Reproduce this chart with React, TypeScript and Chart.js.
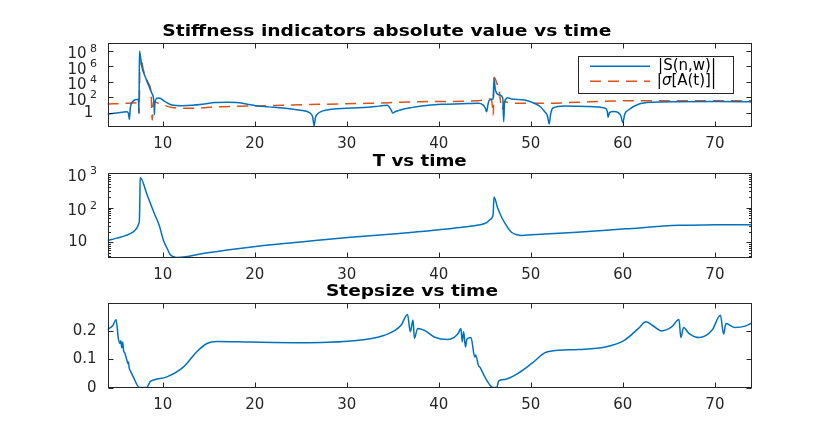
import React, { useEffect, useRef } from "react";
import { Chart, registerables } from "chart.js";

Chart.register(...registerables);

// ---- data ----
const timeTicks = [10, 20, 30, 40, 50, 60, 70];

const stiffTime = [
  4, 5, 5.6, 6.1, 6.28, 6.38, 6.48, 6.8, 7.1, 7.36, 7.42, 7.47, 7.73, 8.09,
  8.45, 8.82, 9.0, 9.06, 9.1, 9.15, 9.36, 9.6, 10.27, 11.0, 12.1, 13.2, 14.3,
  15.7, 17.0, 18.3, 19.2, 20.1, 21.5, 23, 24.2, 25, 25.7, 26.1, 26.3, 26.45,
  26.6, 26.8, 27.2, 28.6, 30.5, 32.3, 33.5, 34.4, 34.8, 35.0, 35.3, 35.9, 37.0,
  38.1, 40.3, 42.5, 44.3, 44.8, 45.05, 45.2, 45.35, 45.5, 45.9, 46.0, 46.15,
  46.6, 46.95, 47.05, 47.15, 47.5, 47.9, 49.3, 50.4, 51.1, 51.5, 51.8, 52.0,
  52.15, 52.4, 53.7, 56, 58.1, 58.3, 58.4, 58.55, 59.0, 59.5, 59.8, 60.0, 60.2,
  60.6, 61.7, 63.2, 66.1, 70, 74,
];
const stiffValues = [
  0.68, 0.89, 1.12, 1.35, 0.79, 0.14, 4, 32, 50, 54, 0.79, 9.1e7, 8.7e5, 4.5e4,
  3.7e3, 316, 72, 10, 0.55, 16, 72, 80, 26, 9.8, 7.9, 8.9, 12, 20, 22, 19.5,
  12.6, 7.9, 5.6, 4, 2.8, 2.1, 1.4, 0.71, 0.28, 0.02, 0.25, 0.63, 1.35, 3, 4, 5,
  7, 8.9, 2.5, 0.89, 1.4, 2.4, 4.5, 7.2, 12, 14, 16, 10, 4, 1.35, 12.6, 44, 59,
  2.75e4, 850, 190, 80, 0.069, 26, 87, 59, 44, 16, 5, 1.35, 0.4, 0.035, 0.63, 4,
  7.2, 6.3, 3.7, 1.6, 0.26, 1, 1.4, 1, 0.35, 0.051, 0.63, 2.2, 12, 22, 26, 27,
  26,
];

const sigmaTime = [
  4, 6, 7.2, 7.38, 7.43, 7.55, 7.9, 8.45, 8.74, 8.8, 8.86, 9.0, 9.54, 10.3,
  11.0, 12.2, 13.5, 15.7, 18, 21.2, 26, 32.3, 38.1, 44.3, 45.7, 45.85, 45.92,
  46.0, 46.4, 46.6, 46.75, 46.85, 47.2, 47.9, 51.5, 55, 58.8, 65, 74,
];
const sigmaValues = [
  13, 16, 19.5, 20, 0.83, 2.8e7, 3.2e5, 6.3e3, 316, 3.2, 0.115, 26, 16, 7.9,
  4.8, 3.8, 3.7, 5.6, 6.6, 7.9, 11.2, 16, 26, 35, 59, 3.2, 0.5, 3.7e4, 2.8e3,
  316, 10, 2.75, 26, 16, 16, 22, 32, 35, 35,
];

const tTime = [
  4, 5, 6, 6.8, 7.2, 7.4, 7.47, 7.52, 7.55, 8.3, 9.0, 9.6, 10.1, 10.5, 10.8,
  11.2, 11.5, 12.5, 14.1, 17, 20.1, 25, 30.1, 35, 38.1, 40.6, 43, 44.3, 45.2,
  45.6, 45.9, 46.0, 46.4, 46.8, 47.2, 47.9, 48.5, 49.0, 51.5, 55, 60.3, 66.1,
  70, 74,
];
const tValues = [
  11.2, 13.2, 15.8, 20, 26, 35, 45, 200, 760, 240, 78, 32, 11, 6.5, 4.4, 3.8,
  3.6, 3.8, 4.6, 6.0, 7.6, 10.2, 13.8, 17.5, 20.4, 24, 28, 31.6, 37, 46, 63,
  204, 98, 55, 35.5, 19.5, 16.5, 15.8, 17.4, 19.5, 24.5, 31, 32, 32.4,
];

const stepTime = [
  4, 4.6, 4.93, 5.18, 5.36, 5.45, 5.55, 5.65, 5.75, 5.9, 6.1, 6.2, 6.28, 6.35,
  6.5, 6.8, 7.47, 8.27, 8.63, 9.0, 10.45, 12.27, 13.7, 14.8, 15.9, 19.5, 25,
  30.1, 34.1, 35.9, 36.6, 36.9, 37.2, 37.35, 37.7, 38.4, 39.5, 41.0, 42.1, 42.4,
  42.55, 42.7, 42.9, 43.05, 43.5, 43.9, 44.0, 44.3, 44.5, 45.0, 45.9, 46.3,
  46.5, 47.2, 48.6, 50.1, 51.5, 52.3, 55.2, 58.1, 60.2, 61.7, 62.5, 63.2, 64.2,
  65.3, 66.1, 66.3, 66.6, 67.2, 68.3, 69.7, 70.6, 70.95, 71.2, 72.2, 73.3, 74,
];
const stepValues = [
  0.204, 0.219, 0.239, 0.173, 0.155, 0.165, 0.14, 0.16, 0.13, 0.12, 0.097,
  0.085, 0.09, 0.07, 0.058, 0.038, 0.001, 0.001, 0.021, 0.027, 0.038, 0.073,
  0.126, 0.155, 0.162, 0.16, 0.158, 0.163, 0.184, 0.219, 0.257, 0.196, 0.237,
  0.173, 0.208, 0.202, 0.178, 0.169, 0.19, 0.208, 0.161, 0.196, 0.143, 0.17,
  0.176, 0.108, 0.115, 0.079, 0.07, 0.038, 0.001, 0.001, 0.023, 0.029, 0.05,
  0.085, 0.122, 0.129, 0.134, 0.143, 0.167, 0.208, 0.231, 0.219, 0.199, 0.213,
  0.239, 0.176, 0.211, 0.19, 0.176, 0.202, 0.254, 0.188, 0.225, 0.211, 0.216,
  0.227,
];

const stiffTicks = [1, 1e2, 1e4, 1e6, 1e8];
const tTicks = [10, 1e2, 1e3];
const stepTicks = [0, 0.1, 0.2];

// ---- look ----
const FONT = '"DejaVu Sans", sans-serif';
const AXIS = "#262626";
const BLUE = "#0072BD";
const ORANGE = "#D95319";
const AREA_LEFT = 107.5;
const AREA_RIGHT = 751.7;

const pts = (xs: number[], ys: number[]) => xs.map((x, i) => ({ x, y: ys[i] }));

interface PanelProps {
  top: number;
  height: number;
  areaTop: number;
  areaBottom: number;
  datasets: any[];
  yType: "linear" | "logarithmic";
  yMin: number;
  yMax: number;
  yTicks: number[];
  title: string;
  titleLeft: number;
  titleWidth: number;
  titleBaseline: number;
  minorTicks?: boolean;
  legend?: boolean;
}

const drawRich = (ctx: CanvasRenderingContext2D, text: string, right: number, y: number) => {
  // σ in italic, the rest upright, right aligned
  const parts = text.split(/(σ)/).filter((s) => s.length);
  const fontOf = (s: string) => (s === "σ" ? `italic 15px ${FONT}` : `15px ${FONT}`);
  let total = 0;
  parts.forEach((s) => {
    ctx.font = fontOf(s);
    total += ctx.measureText(s).width;
  });
  let x = right - total;
  ctx.textAlign = "left";
  parts.forEach((s) => {
    ctx.font = fontOf(s);
    ctx.fillText(s, x, y);
    x += ctx.measureText(s).width;
  });
};

const axesPlugin = (p: PanelProps) => ({
  id: "matlabAxes",
  afterDraw(chart: Chart) {
    const { ctx, chartArea } = chart;
    const xs = chart.scales.x;
    const ys = chart.scales.y;
    const L = Math.round(chartArea.left) + 0.5;
    const R = Math.round(chartArea.right) - 0.5;
    const T = Math.round(chartArea.top) + 0.5;
    const B = Math.round(chartArea.bottom) - 0.5;
    ctx.save();
    ctx.strokeStyle = AXIS;
    ctx.lineWidth = 1;
    ctx.setLineDash([]);
    ctx.strokeRect(L, T, R - L, B - T);
    ctx.beginPath();
    timeTicks.forEach((v) => {
      const px = Math.round(xs.getPixelForValue(v)) + 0.5;
      ctx.moveTo(px, B);
      ctx.lineTo(px, B - 5);
      ctx.moveTo(px, T);
      ctx.lineTo(px, T + 5);
    });
    p.yTicks.forEach((v) => {
      const py = Math.round(ys.getPixelForValue(v)) + 0.5;
      ctx.moveTo(L, py);
      ctx.lineTo(L + 5, py);
      ctx.moveTo(R, py);
      ctx.lineTo(R - 5, py);
    });
    if (p.minorTicks) {
      const k0 = Math.floor(Math.log10(p.yMin));
      const k1 = Math.ceil(Math.log10(p.yMax));
      for (let k = k0; k <= k1; k++) {
        for (let m = 2; m <= 9; m++) {
          const v = m * Math.pow(10, k);
          if (v <= p.yMin || v >= p.yMax) continue;
          const py = Math.round(ys.getPixelForValue(v)) + 0.5;
          ctx.moveTo(L, py);
          ctx.lineTo(L + 2.5, py);
          ctx.moveTo(R, py);
          ctx.lineTo(R - 2.5, py);
        }
      }
    }
    ctx.stroke();

    // log tick labels: 1, 10, 10^k
    if (p.yType === "logarithmic") {
      ctx.fillStyle = AXIS;
      ctx.textBaseline = "middle";
      p.yTicks.forEach((v) => {
        const py = ys.getPixelForValue(v);
        const e = Math.round(Math.log10(v));
        ctx.textAlign = "right";
        ctx.font = `15px ${FONT}`;
        if (e === 0) {
          ctx.fillText("1", AREA_LEFT - 14.2, py);
        } else if (e === 1) {
          ctx.fillText("10", AREA_LEFT - 20.2, py);
        } else {
          ctx.fillText("10", AREA_LEFT - 21, py + 3.5);
          ctx.textAlign = "left";
          ctx.font = `11px ${FONT}`;
          ctx.fillText(String(e), AREA_LEFT - 17.5, py - 2);
        }
      });
    }

    // title, stretched to the width it has in the reference
    ctx.fillStyle = "#000";
    ctx.textAlign = "left";
    ctx.textBaseline = "alphabetic";
    ctx.font = `bold 16px ${FONT}`;
    const w = ctx.measureText(p.title).width;
    ctx.save();
    ctx.translate(p.titleLeft, p.titleBaseline - p.top);
    ctx.scale(p.titleWidth / w, 1);
    ctx.fillText(p.title, 0, 0);
    ctx.restore();

    if (p.legend) {
      const x0 = 577.7;
      const x1 = 732.3;
      const y0 = 56 - p.top;
      const y1 = 93.3 - p.top;
      ctx.fillStyle = "#fff";
      ctx.fillRect(x0, y0, x1 - x0, y1 - y0);
      ctx.strokeStyle = AXIS;
      ctx.lineWidth = 1;
      ctx.strokeRect(Math.round(x0) + 0.5, Math.round(y0) + 0.5, Math.round(x1 - x0), Math.round(y1 - y0));
      const rows = [66.3, 81.3];
      chart.data.datasets.forEach((ds: any, i: number) => {
        const y = rows[i] - p.top;
        ctx.strokeStyle = ds.borderColor;
        ctx.lineWidth = 1.5;
        ctx.setLineDash(ds.borderDash || []);
        ctx.beginPath();
        ctx.moveTo(590, y);
        ctx.lineTo(650, y);
        ctx.stroke();
        ctx.setLineDash([]);
        ctx.fillStyle = "#000";
        ctx.textBaseline = "middle";
        drawRich(ctx, ds.label, 716, y);
      });
    }
    ctx.restore();
  },
});

const Panel: React.FC<PanelProps> = (p) => {
  const canvasRef = useRef<HTMLCanvasElement | null>(null);

  useEffect(() => {
    if (!canvasRef.current) return;
    const chart = new Chart(canvasRef.current, {
      type: "line",
      data: { datasets: p.datasets },
      options: {
        animation: false,
        responsive: false,
        layout: {
          padding: { left: 0, right: 830 - AREA_RIGHT, top: p.areaTop - p.top, bottom: 0 },
        },
        plugins: {
          legend: { display: false },
          tooltip: { enabled: false },
          title: { display: false },
        },
        elements: {
          point: { radius: 0 },
          line: { borderWidth: 1.5, cubicInterpolationMode: "monotone" },
        },
        scales: {
          x: {
            type: "linear",
            min: 4,
            max: 74,
            grid: { display: false, drawTicks: false },
            border: { display: false },
            afterBuildTicks: (s: any) => {
              s.ticks = timeTicks.map((value) => ({ value }));
            },
            afterFit: (s: any) => {
              s.height = p.top + p.height - p.areaBottom;
            },
            ticks: {
              font: { family: FONT, size: 15 },
              color: AXIS,
              padding: 8,
              maxRotation: 0,
              autoSkip: false,
            },
          },
          y: {
            type: p.yType,
            min: p.yMin,
            max: p.yMax,
            grid: { display: false, drawTicks: false },
            border: { display: false },
            afterBuildTicks: (s: any) => {
              s.ticks = p.yTicks.map((value) => ({ value }));
            },
            afterFit: (s: any) => {
              s.width = AREA_LEFT;
            },
            ticks: {
              display: p.yType === "linear",
              font: { family: FONT, size: 15 },
              color: AXIS,
              padding: 11,
            },
          },
        },
      } as any,
      plugins: [axesPlugin(p)],
    });
    return () => chart.destroy();
  }, []);

  return (
    <canvas
      ref={canvasRef}
      width={830}
      height={p.height}
      style={{ position: "absolute", left: 0, top: p.top, width: 830, height: p.height }}
    />
  );
};

const App: React.FC = () => {
  return (
    <div
      style={{
        position: "fixed",
        left: 0,
        top: 0,
        width: 830,
        height: 436,
        background: "#fff",
        overflow: "hidden",
      }}
    >
      <Panel
        top={0}
        height={150}
        areaTop={42.7}
        areaBottom={126.7}
        yType="logarithmic"
        yMin={0.0155}
        yMax={1.07e9}
        yTicks={stiffTicks}
        title="Stiffness indicators absolute value vs time"
        titleLeft={162.3}
        titleWidth={449}
        titleBaseline={36}
        legend
        datasets={[
          {
            label: "|S(n,w)|",
            data: pts(stiffTime, stiffValues),
            borderColor: BLUE,
            borderWidth: 1.5,
          },
          {
            label: "|σ[A(t)]|",
            data: pts(sigmaTime, sigmaValues),
            borderColor: ORANGE,
            borderWidth: 1.5,
            borderDash: [11, 7],
          },
        ]}
      />
      <Panel
        top={150}
        height={130}
        areaTop={172.7}
        areaBottom={257.7}
        yType="logarithmic"
        yMin={3.57}
        yMax={1040}
        yTicks={tTicks}
        minorTicks
        title="T vs time"
        titleLeft={372.7}
        titleWidth={94}
        titleBaseline={165.7}
        datasets={[
          { label: "T", data: pts(tTime, tValues), borderColor: BLUE, borderWidth: 1.5 },
        ]}
      />
      <Panel
        top={280}
        height={156}
        areaTop={303.3}
        areaBottom={387.7}
        yType="linear"
        yMin={0}
        yMax={0.296}
        yTicks={stepTicks}
        title="Stepsize vs time"
        titleLeft={326}
        titleWidth={172}
        titleBaseline={295.7}
        datasets={[
          { label: "Stepsize", data: pts(stepTime, stepValues), borderColor: BLUE, borderWidth: 1.5 },
        ]}
      />
    </div>
  );
};

export default App;
